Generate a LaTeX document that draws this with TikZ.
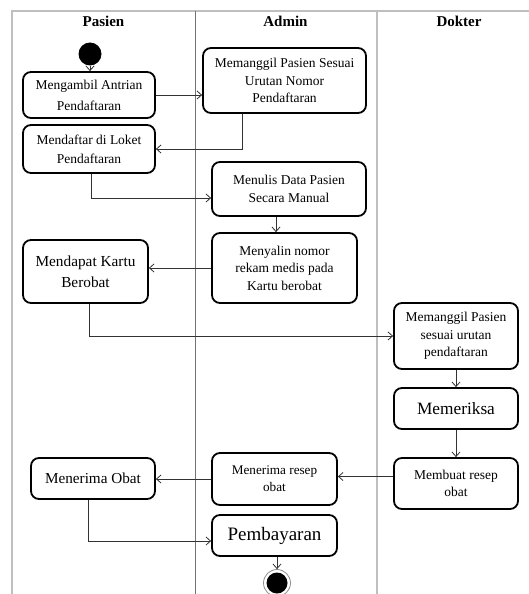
\documentclass[tikz,border=0pt]{standalone}
\usepackage{fontspec}
\setmainfont{Liberation Serif}
\usetikzlibrary{
  arrows.meta,  % Straight Barb tips
  positioning
}
\newcommand{\fs}[2]{\fontsize{#1}{#2}\selectfont}
\tikzset{
  x=1pt,
  y=-1pt,
  >={Straight Barb[length=4.5pt,width=8pt]},
  my lane/.style={
    draw=black!25,
    line width=1.6pt
  },
  my split/.style={
    draw=black!55,
    line width=0.8pt
  },
  my head/.style={
    font=\bfseries\fs{15}{18}
  },
  my action/.style={
    draw,
    line width=1.8pt,
    rectangle,
    rounded corners=8pt,
    align=center,
    inner sep=3pt,
    font=\fs{13.5}{17.5}
  },
  my flow/.style={
    ->,
    draw=black!80,
    line width=0.8pt
  }
}

\begin{document}
\begin{tikzpicture}
\useasboundingbox (0,0) rectangle (529,594);
% lanes
\draw[my lane]  (529,11) -- (12,11) -- (12,594);
\draw[my split] (195,11) -- (195,594);
\draw[my lane]  (377,11) -- (377,594);
\node[my head] (pasien) at (103.5,21) {Pasien};
\node[my head] (admin)  at (285.5,21) {Admin};
\node[my head] (dokter) at (459,21)   {Dokter};
% start / end
\node[circle,fill=black,minimum size=23,inner sep=0] (start) at (90,54) {};
\node[circle,draw=black!45,line width=0.8pt,minimum size=27,inner sep=0] (end) at (277,583) {};
\fill (end.center) circle (10.5pt);
% actions
\node[my action,minimum width=132,minimum height=46,font=\fs{13.5}{21}] (ambil)   at (89,95)      {Mengambil Antrian\\Pendaftaran};
\node[my action,minimum width=163,minimum height=65]                    (panggil) at (284.5,80.5) {Memanggil Pasien Sesuai\\Urutan Nomor\\Pendaftaran};
\node[my action,minimum width=132,minimum height=48,font=\fs{13.5}{19}] (daftar)  at (89,149)     {Mendaftar di Loket\\Pendaftaran};
\node[my action,minimum width=154,minimum height=54,font=\fs{13.5}{18.5}] (tulis) at (289,189)    {Menulis Data Pasien\\Secara Manual};
\node[my action,minimum width=145,minimum height=70]                    (salin)   at (284.5,268)  {Menyalin nomor\\rekam medis pada\\Kartu berobat};
\node[my action,minimum width=125,minimum height=63,font=\fs{15.3}{20.7}] (kartu) at (85.5,271.5) {Mendapat Kartu\\Berobat};
\node[my action,minimum width=124,minimum height=66]                    (panggilDok) at (456,336) {Memanggil Pasien\\sesuai urutan\\pendaftaran};
\node[my action,minimum width=124,minimum height=41,font=\fs{17.3}{20}] (periksa) at (456,408.5)  {Memeriksa};
\node[my action,minimum width=124,minimum height=51,font=\fs{13.5}{16.7}] (resep) at (456,483.5)  {Membuat resep\\obat};
\node[my action,minimum width=125,minimum height=52,font=\fs{13.2}{16.7}] (terimaResep) at (274.5,479) {Menerima resep\\obat};
\node[my action,minimum width=124,minimum height=41,font=\fs{15.2}{18}] (obat)    at (93,478.5)   {Menerima Obat};
\node[my action,minimum width=125,minimum height=41,font=\fs{19}{22}]   (bayar)   at (274.5,535.5) {Pembayaran};
% flows
\draw[my flow] (start) -- (start |- ambil.north);
\draw[my flow] (ambil.east) -- (ambil.east -| panggil.west);
\draw[my flow] ([xshift=-42.5pt]panggil.south) |- (daftar.east);
\draw[my flow] ([xshift=2pt]daftar.south) |- ([yshift=-9pt]tulis.west);
\draw[my flow] ([xshift=-13pt]tulis.south) -- ([xshift=-13pt]tulis.south |- salin.north);
\draw[my flow] (salin.west) -- (salin.west -| kartu.east);
\draw[my flow] ([xshift=3.5pt]kartu.south) |- (panggilDok.west);
\draw[my flow] (panggilDok) -- (periksa);
\draw[my flow] (periksa) -- (resep);
\draw[my flow] ([yshift=7pt]resep.west) -- ([yshift=7pt]resep.west -| terimaResep.east);
\draw[my flow] (terimaResep.west) -- (terimaResep.west -| obat.east);
\draw[my flow] ([xshift=-5pt]obat.south) |- ([yshift=-5.5pt]bayar.west);
\draw[my flow] (bayar.south -| end) -- (end.north);
\end{tikzpicture}
\end{document}
